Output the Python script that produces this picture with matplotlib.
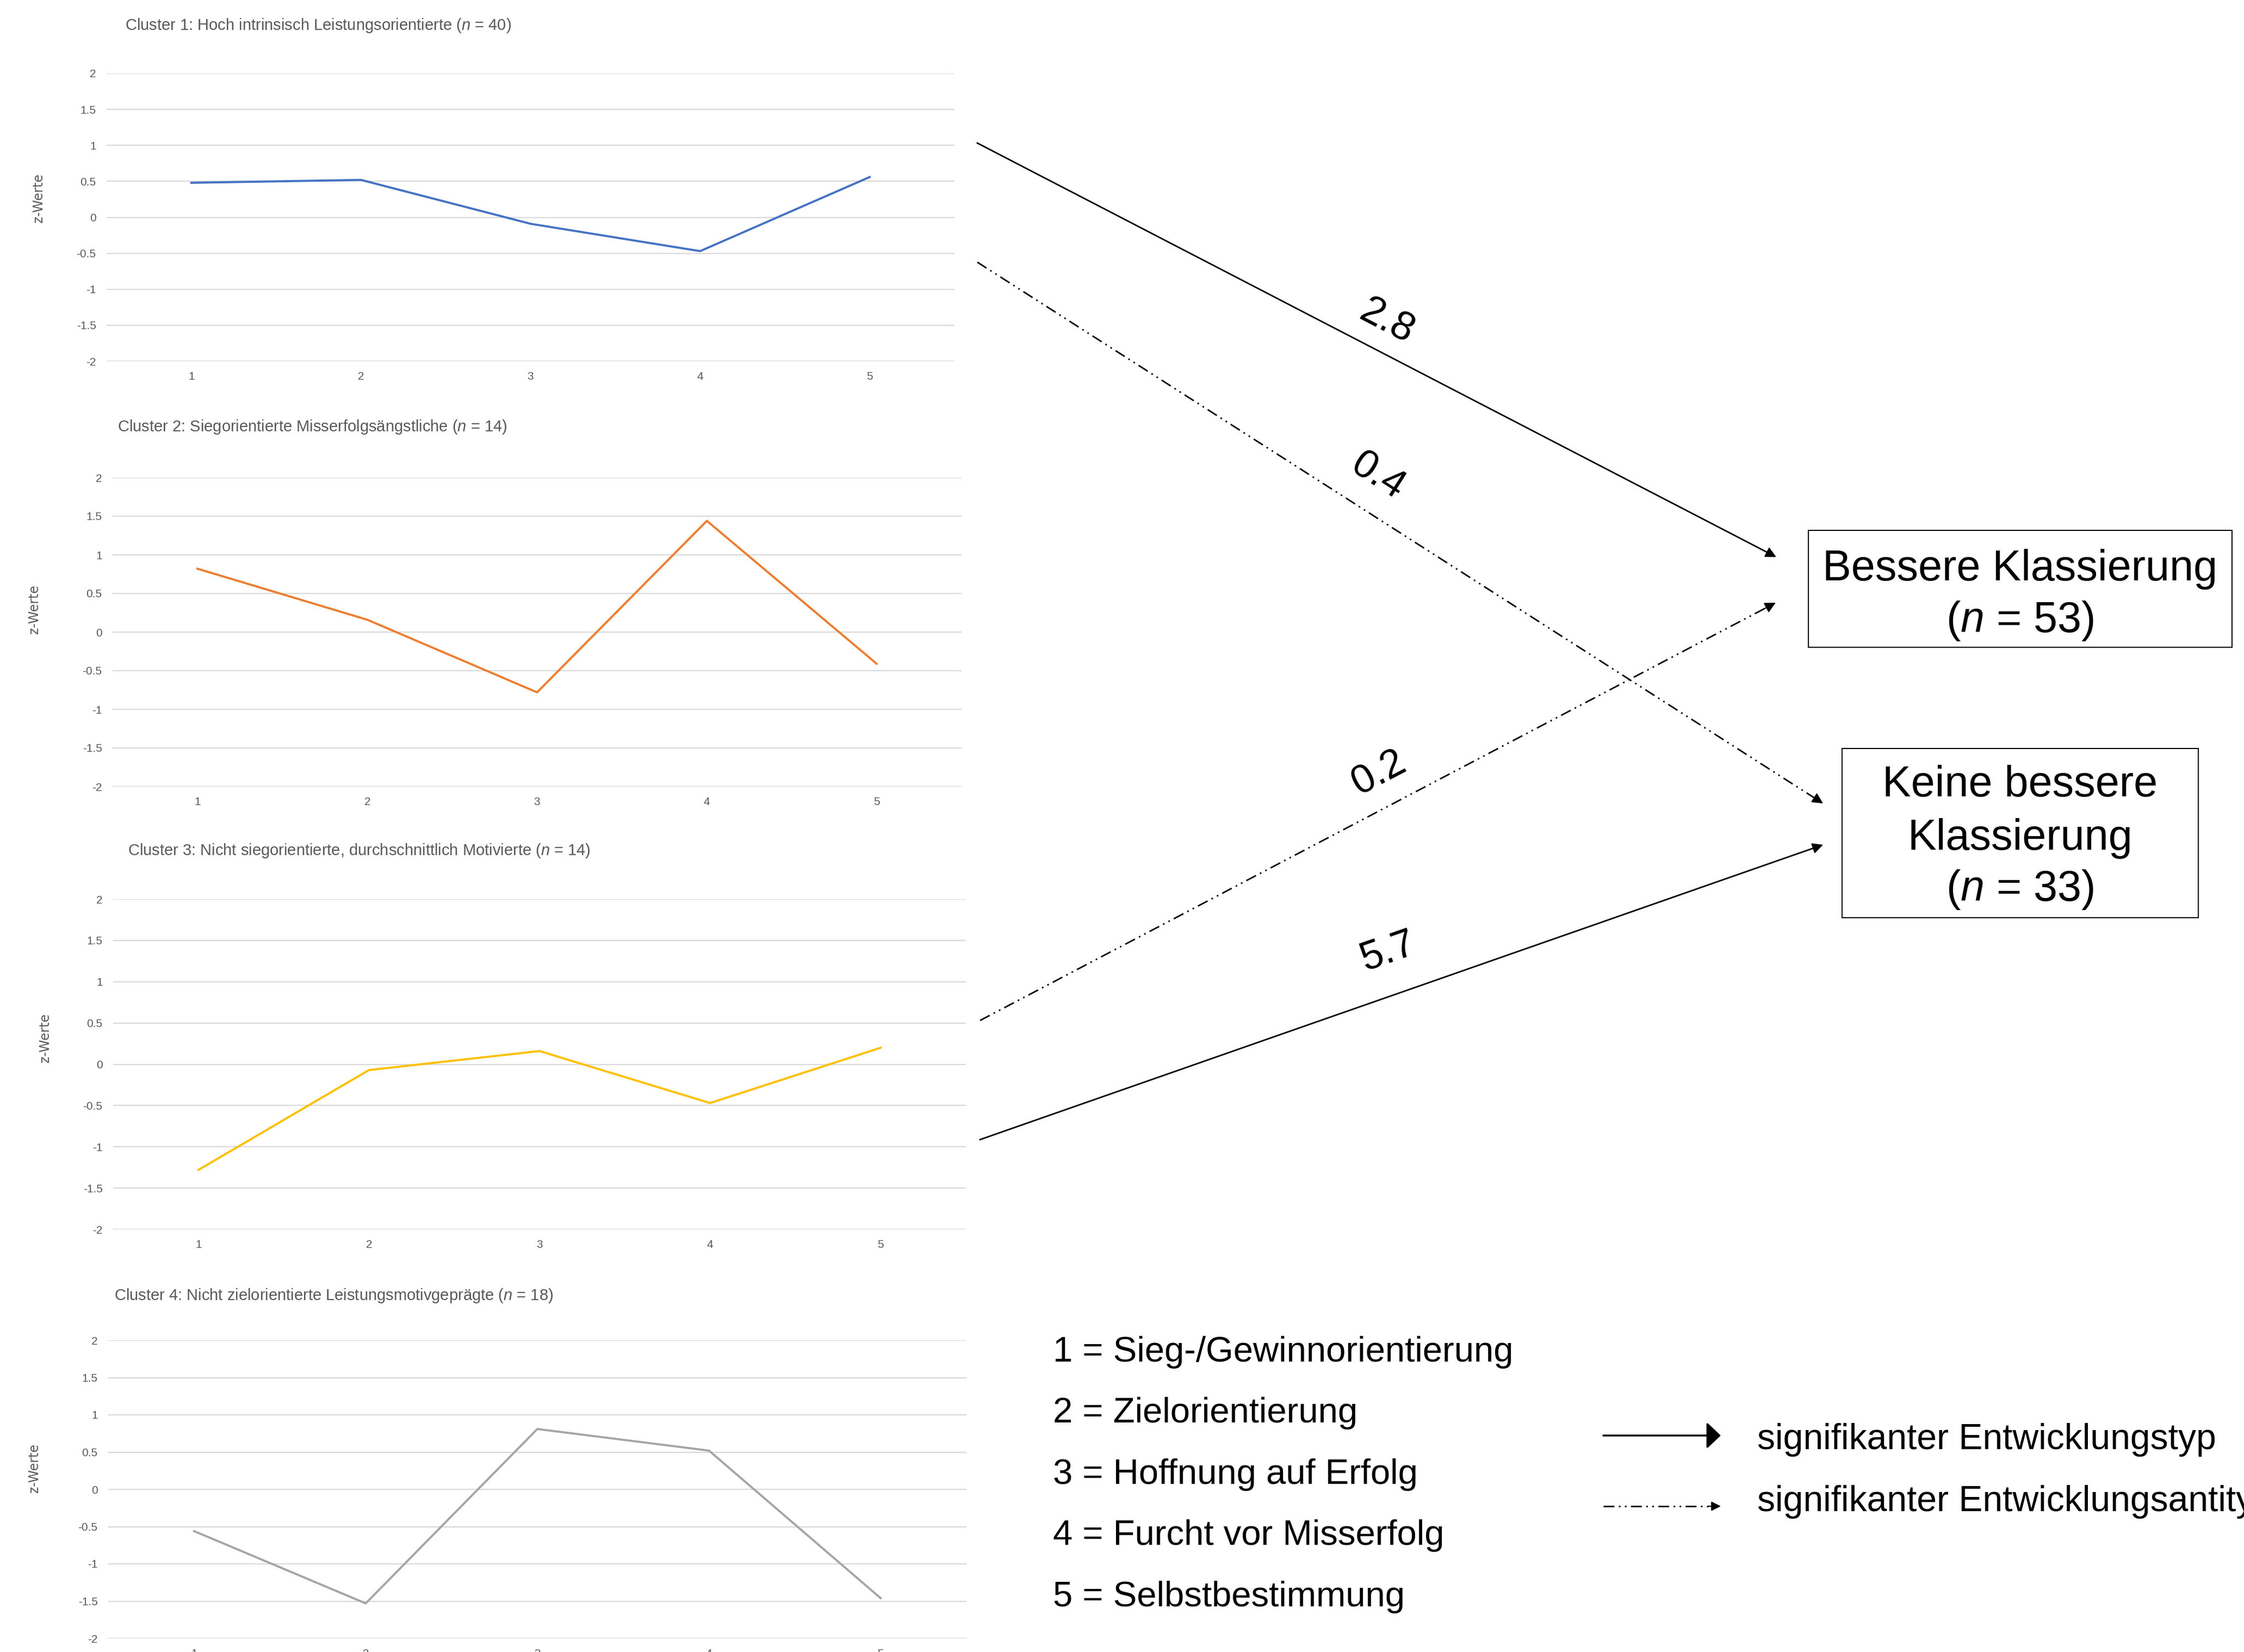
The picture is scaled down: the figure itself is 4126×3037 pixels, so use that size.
import numpy as np
import matplotlib
matplotlib.use('Agg')
import matplotlib.pyplot as plt
from matplotlib import font_manager
from matplotlib.patches import Rectangle

W, H = 4126, 3037

# --- data ---
items = [1, 2, 3, 4, 5]
cluster_titles = [
    'Cluster 1: Hoch intrinsisch Leistungsorientierte ($\\mathit{n}$ = 40)',
    'Cluster 2: Siegorientierte Misserfolgsängstliche ($\\mathit{n}$ = 14)',
    'Cluster 3: Nicht siegorientierte, durchschnittlich Motivierte ($\\mathit{n}$ = 14)',
    'Cluster 4: Nicht zielorientierte Leistungsmotivgeprägte ($\\mathit{n}$ = 18)',
]
cluster_1 = [0.48, 0.52, -0.09, -0.47, 0.56]
cluster_2 = [0.82, 0.16, -0.78, 1.44, -0.41]
cluster_3 = [-1.28, -0.07, 0.16, -0.47, 0.20]
cluster_4 = [-0.56, -1.53, 0.81, 0.52, -1.46]
cluster_values = [cluster_1, cluster_2, cluster_3, cluster_4]
cluster_colors = ['#4472C4', '#ED7D31', '#FFC000', '#A5A5A5']
y_ticks = [-2, -1.5, -1, -0.5, 0, 0.5, 1, 1.5, 2]

item_labels = [
    '1 = Sieg-/Gewinnorientierung',
    '2 = Zielorientierung',
    '3 = Hoffnung auf Erfolg',
    '4 = Furcht vor Misserfolg',
    '5 = Selbstbestimmung',
]
outcome_better = ['Bessere Klassierung', '($\\mathit{n}$ = 53)']
outcome_not = ['Keine bessere', 'Klassierung', '($\\mathit{n}$ = 33)']
coefficients = ['2.8', '0.4', '0.2', '5.7']
legend_labels = ['signifikanter Entwicklungstyp', 'signifikanter Entwicklungsantityp']

# --- layout (pixels of the 4126x3037 canvas, y from top) ---
panel_boxes = [(196, 135, 1755, 664), (207, 878, 1768, 1446),
               (208, 1653, 1776, 2260), (199, 2464, 1777, 3012)]
title_pos = [(230, 47), (216, 785), (235, 1564), (210, 2382)]
ylabel_pos = [(71, 364), (63, 1120), (83, 1908), (63, 2699)]

names = {f.name for f in font_manager.fontManager.ttflist}
chart_font = 'Liberation Sans Narrow' if 'Liberation Sans Narrow' in names else 'Liberation Sans'

plt.rcParams['axes.unicode_minus'] = False
plt.rcParams['mathtext.fontset'] = 'custom'
plt.rcParams['mathtext.rm'] = 'Liberation Sans'
plt.rcParams['mathtext.it'] = 'Liberation Sans:italic'

GRAY = '#595959'
DASHDOT = (0, (7.2, 2.9, 1.1, 2.9, 1.1, 2.9))

fig = plt.figure(figsize=(W / 100, H / 100), dpi=100)
fig.set_facecolor('white')

ov = fig.add_axes([0, 0, 1, 1])
ov.set_xlim(0, W)
ov.set_ylim(H, 0)
ov.axis('off')


def to_fig(box):
    x0, y0, x1, y1 = box
    return [x0 / W, 1 - y1 / H, (x1 - x0) / W, (y1 - y0) / H]


for i in range(4):
    ax = fig.add_axes(to_fig(panel_boxes[i]))
    ax.plot(items, cluster_values[i], color=cluster_colors[i], lw=2.8, solid_joinstyle='round')
    ax.set_xlim(0.5, 5.5)
    ax.set_ylim(-2, 2)
    ax.set_yticks(y_ticks)
    ax.set_yticklabels([f'{v:g}' for v in y_ticks])
    ax.set_xticks(items)
    ax.grid(axis='y', color='#D9D9D9', lw=1.5)
    ax.set_axisbelow(True)
    for s in ax.spines.values():
        s.set_visible(False)
    ax.tick_params(length=0, labelsize=15, labelcolor=GRAY, pad=14)
    for lab in ax.get_xticklabels() + ax.get_yticklabels():
        lab.set_family(chart_font)
    tx, ty = title_pos[i]
    ov.text(tx, ty, cluster_titles[i], family=chart_font, fontsize=21, color=GRAY,
            ha='left', va='center')
    lx, ly = ylabel_pos[i]
    ov.text(lx, ly, 'z-Werte', family='DejaVu Sans', fontsize=17, color=GRAY,
            rotation=90, ha='center', va='center')

# arrows from clusters to outcomes
links = [
    ((1797, 263), (3266, 1024), '-', (2550, 591)),
    ((1797, 482), (3352, 1477), DASHDOT, (2533, 876)),
    ((1802, 1876), (3265, 1108), DASHDOT, (2535, 1421)),
    ((1802, 2095), (3352, 1553), '-', (2552, 1749)),
]
for (start, end, style, lpos), coef in zip(links, coefficients):
    dx, dy = end[0] - start[0], end[1] - start[1]
    length = np.hypot(dx, dy)
    ux, uy = dx / length, dy / length
    ov.plot([start[0], end[0] - ux * 12], [start[1], end[1] - uy * 12],
            color='black', lw=2, ls=style)
    ov.annotate('', xy=end, xytext=(end[0] - ux * 24, end[1] - uy * 24),
                arrowprops=dict(arrowstyle='-|>', color='black', lw=1.5,
                                mutation_scale=30, shrinkA=0, shrinkB=0))
    angle = np.degrees(np.arctan2(-dy, dx))
    ov.text(lpos[0], lpos[1], coef, family='Liberation Sans', fontsize=53,
            rotation=angle, rotation_mode='anchor', ha='center', va='center')

# outcome boxes
ov.add_patch(Rectangle((3325, 975), 4104 - 3325, 1190 - 975, fill=False,
                       edgecolor='black', lw=1.5))
ov.add_patch(Rectangle((3387, 1376), 4042 - 3387, 1687 - 1376, fill=False,
                       edgecolor='black', lw=1.5))
for txt, yb in zip(outcome_better, [1067, 1162]):
    ov.text(3714, yb, txt, family='Liberation Sans', fontsize=57,
            ha='center', va='baseline')
for txt, yb in zip(outcome_not, [1464, 1562, 1656]):
    ov.text(3714, yb, txt, family='Liberation Sans', fontsize=57,
            ha='center', va='baseline')

# item legend
for txt, yb in zip(item_labels, [2503, 2615, 2728, 2840, 2953]):
    ov.text(1936, yb, txt, family='Liberation Sans', fontsize=47,
            ha='left', va='baseline')

# arrow-type legend
ov.annotate('', xy=(3164, 2639), xytext=(2948, 2639),
            arrowprops=dict(arrowstyle='-|>,head_length=0.53,head_width=0.5',
                            color='black', lw=2.5, mutation_scale=30,
                            shrinkA=0, shrinkB=0))
ov.plot([2948, 3150], [2769, 2769], color='black', lw=2, ls=DASHDOT)
ov.annotate('', xy=(3164, 2769), xytext=(3140, 2769),
            arrowprops=dict(arrowstyle='-|>', color='black', lw=1.5,
                            mutation_scale=26, shrinkA=0, shrinkB=0))
for txt, yb in zip(legend_labels, [2664, 2778]):
    ov.text(3231, yb, txt, family='Liberation Sans', fontsize=47.5,
            ha='left', va='baseline')

fig.savefig('out.png', dpi=100)
